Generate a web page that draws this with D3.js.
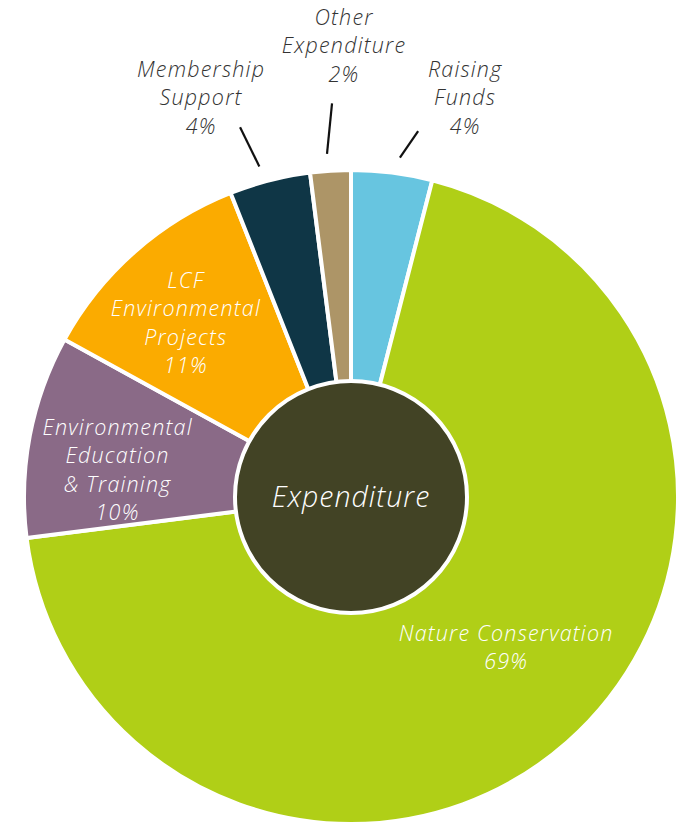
<!DOCTYPE html>
<html lang="en">
<head>
<meta charset="utf-8">
<title>Expenditure</title>
<script src="https://d3js.org/d3.v7.min.js"></script>
<style>
  body { margin: 0; background: #fff; }
  text { font-family: "Open Sans", Roboto, sans-serif; font-style: italic; font-weight: 300; }
</style>
</head>
<body>
<div id="chart"></div>
<script>
  // Data
  const categories = ["Raising Funds", "Nature Conservation", "Environmental Education & Training",
                      "LCF Environmental Projects", "Membership Support", "Other Expenditure"];
  const values = [4, 69, 10, 11, 4, 2];
  const labelLines = [
    ["Raising", "Funds", "4%"],
    ["Nature Conservation", "69%"],
    ["Environmental", "Education", "& Training", "10%"],
    ["LCF", "Environmental", "Projects", "11%"],
    ["Membership", "Support", "4%"],
    ["Other", "Expenditure", "2%"]
  ];
  const colors = ["#67c5e0", "#b0cf17", "#8a6a87", "#fbab00", "#0f3646", "#ad9567"];

  const width = 684, height = 822;
  const cx = 351, cy = 497;
  const radius = 327, holeRadius = 116;
  const lineH = 28.5;
  const fontSize = 21.5;

  // label layout: inside labels (radius, angle offset), outside labels (leader line + text offset)
  const layout = [
    { outside: true, d0: 1.0, d1: 3.2, r0: 343, r1: 372, tx: 47, ty: -5 },
    { outside: false, r: 216, da: -4.5 },
    { outside: false, r: 235, da: -4.2 },
    { outside: false, r: 240, da: -2.1 },
    { outside: true, d0: -1.1, d1: -2.3, r0: 343, r1: 386, tx: -39, ty: -1 },
    { outside: true, d0: -0.4, d1: 0.84, r0: 344, r1: 394, tx: 12, ty: -29 }
  ];

  const svg = d3.select("#chart").append("svg")
    .attr("width", width).attr("height", height);
  const g = svg.append("g").attr("transform", `translate(${cx},${cy})`);

  const pie = d3.pie().sort(null).value(d => d)(values);
  const arc = d3.arc().innerRadius(0).outerRadius(radius);

  g.selectAll("path.slice").data(pie).enter().append("path")
    .attr("class", "slice")
    .attr("d", arc)
    .attr("fill", (d, i) => colors[i])
    .attr("stroke", "#fff")
    .attr("stroke-width", 4)
    .attr("stroke-linejoin", "round");

  // centre circle
  g.append("circle").attr("r", holeRadius)
    .attr("fill", "#424325").attr("stroke", "#fff").attr("stroke-width", 4);
  g.append("text").attr("text-anchor", "middle").attr("dy", "0.35em")
    .attr("fill", "#fff").attr("font-size", 28.5).attr("letter-spacing", 1.0).text("Expenditure");

  const deg = Math.PI / 180;
  const polar = (a, r) => [Math.sin(a) * r, -Math.cos(a) * r];

  pie.forEach((d, i) => {
    const mid = (d.startAngle + d.endAngle) / 2;
    const L = layout[i];
    const lines = labelLines[i];
    let tx, ty, fill;
    if (L.outside) {
      const p0 = polar(mid + L.d0 * deg, L.r0);
      const p1 = polar(mid + L.d1 * deg, L.r1);
      g.append("line").attr("x1", p0[0]).attr("y1", p0[1]).attr("x2", p1[0]).attr("y2", p1[1])
        .attr("stroke", "#111").attr("stroke-width", 2.2);
      // last line sits at the offset from the leader end
      tx = p1[0] + L.tx;
      ty = p1[1] + L.ty - (lines.length - 1) * lineH;
      fill = "#333";
    } else {
      const p = polar(mid + L.da * deg, L.r);
      tx = p[0];
      ty = p[1] - (lines.length - 1) * lineH / 2;
      fill = "#fff";
    }
    const t = g.append("text").attr("text-anchor", "middle").attr("fill", fill)
      .attr("font-size", fontSize).attr("letter-spacing", 1.2);
    lines.forEach((s, k) => {
      t.append("tspan").attr("x", tx).attr("y", ty + k * lineH).attr("dy", "0.35em").text(s);
    });
  });
</script>
</body>
</html>
